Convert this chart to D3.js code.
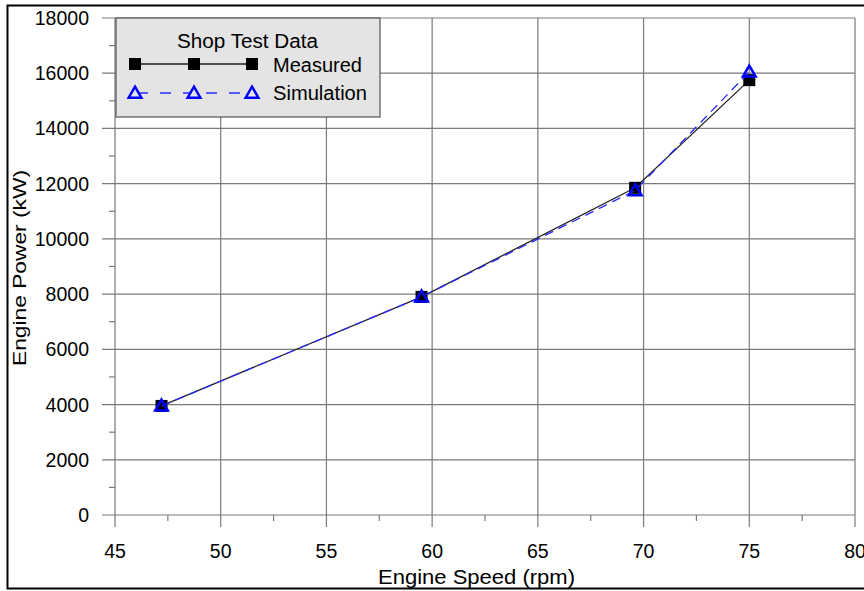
<!DOCTYPE html>
<html><head><meta charset="utf-8">
<script src="https://cdn.jsdelivr.net/npm/d3@7"></script>
<style>body{margin:0;background:#fff}svg{display:block;font-family:"Liberation Sans",Arial,sans-serif}</style>
</head><body><svg id="c" width="864" height="591"></svg>
<script>
const speedMeasured = [47.2, 59.5, 69.6, 75.0];
const powerMeasured = [3950, 7900, 11850, 15750];
const speedSim = [47.2, 59.5, 69.6, 75.0];
const powerSim = [3950, 7900, 11750, 16050];
const xTicks = [45, 50, 55, 60, 65, 70, 75, 80];
const yTicks = [0, 2000, 4000, 6000, 8000, 10000, 12000, 14000, 16000, 18000];
const legendTitle = "Shop Test Data";
const seriesNames = ["Measured", "Simulation"];

const svg = d3.select("#c");
const L = 115, R = 855, T = 18, B = 515;
const x = d3.scaleLinear().domain([45, 80]).range([L, R]);
const y = d3.scaleLinear().domain([0, 18000]).range([B, T]);
const grid = "#7a7a7a";

// outer frame
svg.append("rect").attr("x", 7.5).attr("y", 5.5).attr("width", 870).attr("height", 583)
  .attr("fill", "none").attr("stroke", "#000").attr("stroke-width", 2);

// grid
svg.append("g").selectAll("line").data(xTicks).join("line")
  .attr("x1", d => x(d)).attr("x2", d => x(d)).attr("y1", T).attr("y2", B + 12)
  .attr("stroke", grid).attr("stroke-width", 1.2);
svg.append("g").selectAll("line").data(yTicks).join("line")
  .attr("y1", d => y(d)).attr("y2", d => y(d)).attr("x1", L - 13).attr("x2", R)
  .attr("stroke", grid).attr("stroke-width", 1.2);
// minor ticks
const xMinor = d3.range(47.5, 80, 5);
svg.append("g").selectAll("line").data(xMinor).join("line")
  .attr("x1", d => x(d)).attr("x2", d => x(d)).attr("y1", B).attr("y2", B + 6)
  .attr("stroke", grid).attr("stroke-width", 1.2);
const yMinor = d3.range(1000, 18000, 2000);
svg.append("g").selectAll("line").data(yMinor).join("line")
  .attr("y1", d => y(d)).attr("y2", d => y(d)).attr("x1", L - 6).attr("x2", L)
  .attr("stroke", grid).attr("stroke-width", 1.2);

// tick labels
svg.append("g").selectAll("text").data(xTicks).join("text")
  .attr("x", d => x(d)).attr("y", 558).attr("text-anchor", "middle")
  .attr("font-size", 19.5).attr("fill", "#000").text(d => d);
svg.append("g").selectAll("text").data(yTicks).join("text")
  .attr("x", 89).attr("y", d => y(d) + 7).attr("text-anchor", "end")
  .attr("font-size", 19.5).attr("fill", "#000").text(d => d);

// axis titles
svg.append("text").attr("x", 378).attr("y", 584)
  .attr("font-size", 20).attr("textLength", 197).attr("lengthAdjust", "spacingAndGlyphs")
  .text("Engine Speed (rpm)");
svg.append("text").attr("transform", `translate(26,366) rotate(-90)`)
  .attr("font-size", 19).attr("textLength", 196).attr("lengthAdjust", "spacingAndGlyphs")
  .text("Engine Power (kW)");

const mData = speedMeasured.map((s, i) => [s, powerMeasured[i]]);
const sData = speedSim.map((s, i) => [s, powerSim[i]]);
const line = d3.line().x(d => x(d[0])).y(d => y(d[1]));

svg.append("path").attr("d", line(mData)).attr("fill", "none").attr("stroke", "#222").attr("stroke-width", 1.3);
svg.append("g").selectAll("rect").data(mData).join("rect")
  .attr("x", d => x(d[0]) - 6).attr("y", d => y(d[1]) - 6).attr("width", 12).attr("height", 12).attr("fill", "#000");
svg.append("path").attr("d", line(sData)).attr("fill", "none").attr("stroke", "#2a2aff")
  .attr("stroke-width", 1.3).attr("stroke-dasharray", "9,6");
const tri = d3.symbol().type(d3.symbolTriangle).size(70);
svg.append("g").selectAll("path").data(sData).join("path")
  .attr("transform", d => `translate(${x(d[0])},${y(d[1]) + 1})`).attr("d", tri)
  .attr("fill", "none").attr("stroke", "#0000ff").attr("stroke-width", 2.5);

// legend
const lg = svg.append("g");
lg.append("rect").attr("x", 116).attr("y", 18).attr("width", 264).attr("height", 99)
  .attr("fill", "#e4e4e4").attr("stroke", "#555").attr("stroke-width", 1.2);
lg.append("text").attr("x", 177).attr("y", 48).attr("font-size", 19.5)
  .attr("textLength", 141).attr("lengthAdjust", "spacingAndGlyphs").text(legendTitle);
const lx = [135, 194, 252];
lg.append("line").attr("x1", 135).attr("x2", 252).attr("y1", 64).attr("y2", 64).attr("stroke", "#222").attr("stroke-width", 1.3);
lg.selectAll(".lsq").data(lx).join("rect").attr("class", "lsq")
  .attr("x", d => d - 6).attr("y", 58).attr("width", 12).attr("height", 12).attr("fill", "#000");
lg.append("text").attr("x", 273).attr("y", 72).attr("font-size", 19.5)
  .attr("textLength", 89).attr("lengthAdjust", "spacingAndGlyphs").text(seriesNames[0]);
lg.append("line").attr("x1", 135).attr("x2", 252).attr("y1", 93).attr("y2", 93).attr("stroke", "#2a2aff")
  .attr("stroke-width", 1.3).attr("stroke-dasharray", "11,12").attr("stroke-dashoffset", -2);
lg.selectAll(".ltr").data(lx).join("path").attr("class", "ltr")
  .attr("transform", d => `translate(${d},94)`).attr("d", tri)
  .attr("fill", "#e4e4e4").attr("stroke", "#0000ff").attr("stroke-width", 2.5);
lg.append("text").attr("x", 273).attr("y", 100).attr("font-size", 19.5)
  .attr("textLength", 94).attr("lengthAdjust", "spacingAndGlyphs").text(seriesNames[1]);
</script></body></html>
